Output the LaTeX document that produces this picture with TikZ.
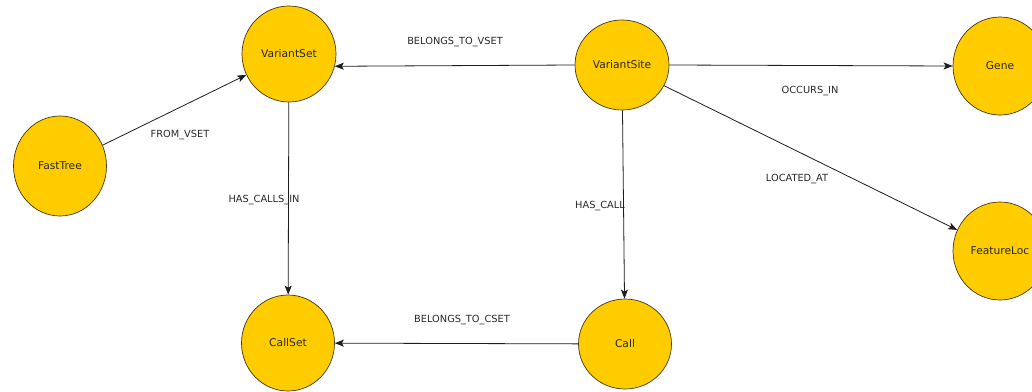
\documentclass[tikz,border=0pt]{standalone}
\usepackage{fontspec}
\setmainfont{DejaVu Sans}
\usetikzlibrary{shapes.geometric,arrows.meta}
\definecolor{entityfill}{RGB}{255,204,0}
\definecolor{entityline}{RGB}{70,55,20}
\definecolor{textdark}{RGB}{40,40,40}
\definecolor{edgeline}{RGB}{30,30,30}
\tikzset{
  entity/.style={ellipse, draw=entityline, line width=0.7pt, fill=entityfill,
    inner sep=0pt, text=textdark, font=\fontsize{10.7}{13}\selectfont},
  rel/.style={draw=edgeline, line width=0.8pt,
    -{Stealth[length=9pt,width=7pt,inset=2pt]}},
  rellabel/.style={text=textdark, inner sep=0pt, font=\fontsize{9.8}{12}\selectfont}
}
\begin{document}
\begin{tikzpicture}[x=1pt,y=-1pt]
  \useasboundingbox (0,0) rectangle (1032,391);
  \clip (0,0) rectangle (1032,391);
  \fill[white] (0,0) rectangle (1032,391);

  % entities
  \node[entity, minimum width=94pt, minimum height=96pt] (vset)  at (289,54)  {VariantSet};
  \node[entity, minimum width=94pt, minimum height=90pt] (vsite) at (622,65)  {VariantSite};
  \node[entity, minimum width=94pt, minimum height=98pt] (gene)  at (1000,66) {Gene};
  \node[entity, minimum width=93pt, minimum height=100pt] (ftree) at (60,166) {FastTree};
  \node[entity, minimum width=94pt, minimum height=98pt] (floc)  at (1000,251) {FeatureLoc};
  \node[entity, minimum width=93pt, minimum height=96pt] (cset)  at (288,343) {CallSet};
  \node[entity, minimum width=93pt, minimum height=90pt] (call)  at (625,344) {Call};

  % relationships
  \draw[rel] (ftree) -- (vset);
  \draw[rel] (vsite.west) -- (vset.-15);
  \draw[rel] (vsite.east) -- (gene.west);
  \draw[rel] (vsite) -- (floc);
  \draw[rel] (vset) -- (cset);
  \draw[rel] (vsite) -- (call);
  \draw[rel] (call) -- (cset);

  % relationship names
  \node[rellabel] (lfrom)   at (180,135) {FROM\_VSET};
  \node[rellabel] (lbvset)  at (455,42)  {BELONGS\_TO\_VSET};
  \node[rellabel] (locc)    at (810,91)  {OCCURS\_IN};
  \node[rellabel] (lloc)    at (797,179) {LOCATED\_AT};
  \node[rellabel] (lhasin)  at (264,200) {HAS\_CALLS\_IN};
  \node[rellabel] (lhas)    at (600,206) {HAS\_CALL};
  \node[rellabel] (lbcset)  at (462,320) {BELONGS\_TO\_CSET};
\end{tikzpicture}
\end{document}
